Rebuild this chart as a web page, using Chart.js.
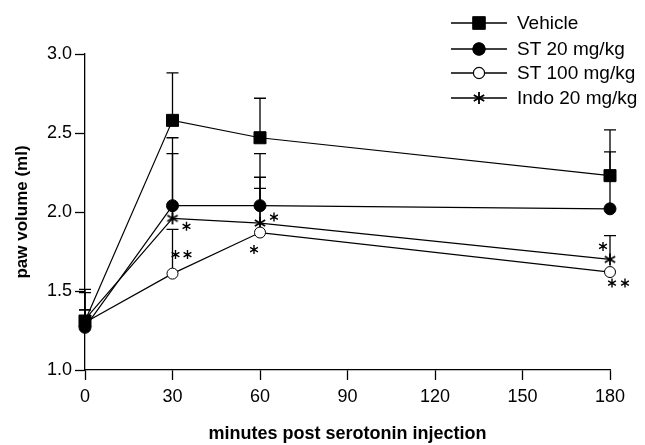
<!DOCTYPE html>
<html>
<head>
<meta charset="utf-8">
<script src="https://cdn.jsdelivr.net/npm/chart.js@4/dist/chart.umd.min.js"></script>
<style>
  html, body { margin: 0; padding: 0; background: #fff; }
  #wrap { width: 645px; height: 445px; }
</style>
</head>
<body>
<div id="wrap"><canvas id="myChart" width="645" height="445"></canvas></div>
<script>
// time points (minutes)
var minutes = [0, 30, 60, 180];

// mean paw volume (ml)
var vehicle = [1.31, 2.58, 2.47, 2.23];
var st20 = [1.27, 2.04, 2.04, 2.02];
var st100 = [1.30, 1.61, 1.87, 1.62];
var indo20 = [1.32, 1.96, 1.93, 1.70];

// upper end of the error bars
var vehicleErr = [1.51, 2.88, 2.72, 2.52];
var st20Err = [1.49, 2.47, 2.37, 2.38];
var st100Err = [1.38, 1.89, 2.15, null];
var indo20Err = [1.38, 2.37, 2.22, 1.85];

var seriesNames = ['Vehicle', 'ST 20 mg/kg', 'ST 100 mg/kg', 'Indo 20 mg/kg'];
var yTicks = [1.0, 1.5, 2.0, 2.5, 3.0];
var xTicks = [0, 30, 60, 90, 120, 150, 180];

// significance stars: dataset, point index, pixel offset from the point
var sigStars = [
  { ds: 3, i: 1, dx: 14, dy: 8 },
  { ds: 2, i: 1, dx: 3, dy: -19 },
  { ds: 2, i: 1, dx: 15, dy: -19 },
  { ds: 3, i: 2, dx: 14, dy: -6 },
  { ds: 2, i: 2, dx: -6, dy: 17 },
  { ds: 3, i: 3, dx: -7, dy: -13 },
  { ds: 2, i: 3, dx: 2, dy: 11 },
  { ds: 2, i: 3, dx: 15, dy: 11 }
];

var FONT = "'Liberation Sans', Arial, sans-serif";

function asterisk(ctx, x, y, r, w) {
  ctx.save();
  ctx.strokeStyle = '#000';
  ctx.lineWidth = w || 1.4;
  ctx.beginPath();
  for (var k = 0; k < 3; k++) {
    var a = Math.PI / 2 + k * Math.PI / 3;
    ctx.moveTo(x + r * Math.cos(a), y + r * Math.sin(a));
    ctx.lineTo(x - r * Math.cos(a), y - r * Math.sin(a));
  }
  ctx.stroke();
  ctx.restore();
}

// canvas used as the point style for the Indo series
var starCanvas = document.createElement('canvas');
starCanvas.width = 14;
starCanvas.height = 14;
asterisk(starCanvas.getContext('2d'), 7, 7, 6, 1.8);

function toPoints(values) {
  return values.map(function (v, i) { return { x: minutes[i], y: v }; });
}

var errSets = [vehicleErr, st20Err, st100Err, indo20Err];

var errorBars = {
  id: 'errorBars',
  beforeDatasetsDraw: function (chart) {
    var ctx = chart.ctx;
    var xs = chart.scales.x, ys = chart.scales.y;
    ctx.save();
    ctx.strokeStyle = '#000';
    ctx.lineWidth = 1.3;
    errSets.forEach(function (errs, d) {
      var vals = chart.data.datasets[d].data;
      errs.forEach(function (top, i) {
        if (top == null) return;
        var px = xs.getPixelForValue(minutes[i]);
        var y0 = ys.getPixelForValue(vals[i].y);
        var y1 = ys.getPixelForValue(top);
        ctx.beginPath();
        ctx.moveTo(px, y0);
        ctx.lineTo(px, y1);
        ctx.moveTo(px - 6, y1);
        ctx.lineTo(px + 6, y1);
        ctx.stroke();
      });
    });
    ctx.restore();
  },
  afterDatasetsDraw: function (chart) {
    var xs = chart.scales.x, ys = chart.scales.y;
    sigStars.forEach(function (s) {
      var p = chart.data.datasets[s.ds].data[s.i];
      asterisk(chart.ctx, xs.getPixelForValue(p.x) + s.dx, ys.getPixelForValue(p.y) + s.dy, 4.5);
    });
  }
};

var legendBox = {
  id: 'legendBox',
  afterDraw: function (chart) {
    var ctx = chart.ctx;
    var rows = [23, 49, 73, 98];
    ctx.save();
    chart.data.datasets.forEach(function (ds, k) {
      var y = rows[k];
      ctx.strokeStyle = '#000';
      ctx.lineWidth = 1.3;
      ctx.beginPath();
      ctx.moveTo(451, y);
      ctx.lineTo(507, y);
      ctx.stroke();
      if (ds.pointStyle === starCanvas) {
        asterisk(ctx, 479, y, 6, 1.8);
      } else {
        Chart.helpers.drawPoint(ctx, {
          pointStyle: ds.pointStyle,
          radius: ds.pointRadius,
          rotation: 0,
          borderWidth: 1
        }, 479, y);
        ctx.fillStyle = ds.pointBackgroundColor;
        ctx.strokeStyle = '#000';
        ctx.lineWidth = 1;
        ctx.fill();
        ctx.stroke();
      }
      ctx.fillStyle = '#000';
      ctx.font = '19px ' + FONT;
      ctx.textBaseline = 'middle';
      ctx.textAlign = 'left';
      ctx.fillText(seriesNames[k], 517, y + 1);
    });
    ctx.restore();
  }
};

function lineSet(i, values, style, radius, fill) {
  return {
    label: seriesNames[i],
    data: toPoints(values),
    borderColor: '#000',
    borderWidth: 1.2,
    pointStyle: style,
    pointRadius: radius,
    pointHoverRadius: radius,
    pointBackgroundColor: fill,
    pointBorderColor: '#000',
    pointBorderWidth: 1,
    tension: 0,
    clip: false
  };
}

var ctx = document.getElementById('myChart');
var myChart = new Chart(ctx, {
  type: 'line',
  data: {
    datasets: [
      lineSet(0, vehicle, 'rect', 8.5, '#000'),
      lineSet(1, st20, 'circle', 6, '#000'),
      lineSet(2, st100, 'circle', 5.5, '#fff'),
      lineSet(3, indo20, starCanvas, 6, '#000')
    ]
  },
  options: {
    responsive: false,
    animation: false,
    layout: { padding: { top: 54, right: 35, left: 0, bottom: 0 } },
    plugins: { legend: { display: false }, tooltip: { enabled: false } },
    scales: {
      x: {
        type: 'linear',
        min: 0,
        max: 180,
        afterFit: function (s) { s.height = 75; },
        afterBuildTicks: function (s) { s.ticks = xTicks.map(function (v) { return { value: v }; }); },
        grid: { drawOnChartArea: false, color: '#000', tickLength: 10, tickWidth: 1.3 },
        border: { color: '#000', width: 1.3 },
        ticks: { color: '#000', padding: 6, maxRotation: 0, font: { family: FONT, size: 18 } },
        title: {
          display: true,
          text: 'minutes post serotonin injection',
          color: '#000',
          padding: { top: 0, bottom: 0 },
          font: { family: FONT, size: 18, weight: 'bold' }
        }
      },
      y: {
        min: 1.0,
        max: 3.0,
        afterFit: function (s) { s.width = 85; },
        afterBuildTicks: function (s) { s.ticks = yTicks.map(function (v) { return { value: v }; }); },
        grid: { drawOnChartArea: false, color: '#000', tickLength: 10, tickWidth: 1.3 },
        border: { color: '#000', width: 1.3 },
        ticks: {
          color: '#000',
          padding: 3,
          font: { family: FONT, size: 18 },
          callback: function (v) { return Number(v).toFixed(1); }
        },
        title: {
          display: true,
          text: 'paw volume (ml)',
          color: '#000',
          padding: { top: 12, bottom: 0 },
          font: { family: FONT, size: 17, weight: 'bold' }
        }
      }
    }
  },
  plugins: [errorBars, legendBox]
});
</script>
</body>
</html>
